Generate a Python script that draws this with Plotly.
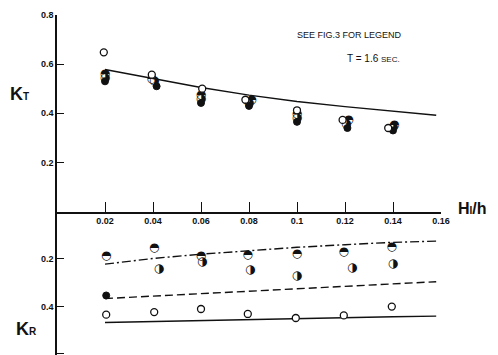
import plotly.graph_objects as go

# ---------------- data ----------------
x_ticks = [0.02, 0.04, 0.06, 0.08, 0.10, 0.12, 0.14, 0.16]
x_tick_labels = ["0.02", "0.04", "0.06", "0.08", "0.1", "0.12", "0.14", "0.16"]
kt_ticks = [0.2, 0.4, 0.6, 0.8]
kt_tick_labels = ["0.2", "0.4", "0.6", "0.8"]
kr_ticks = [0.2, 0.4, 0.6]
kr_tick_labels = ["0.2", "0.4", "0.6"]

# K_T (transmission) measurements, four model types (see Fig.3 legend)
kt_x_open = [0.0195, 0.0395, 0.0605, 0.0785, 0.1000, 0.1190, 0.1380]
kt_open = [0.648, 0.557, 0.500, 0.455, 0.412, 0.373, 0.340]
kt_x_top = [0.0200, 0.0395, 0.0600, 0.0810, 0.1000, 0.1215, 0.1405]
kt_top = [0.560, 0.540, 0.476, 0.455, 0.396, 0.373, 0.352]
kt_x_right = [0.0200, 0.0405, 0.0600, 0.0800, 0.1000, 0.1205, 0.1400]
kt_right = [0.545, 0.530, 0.460, 0.440, 0.380, 0.355, 0.343]
kt_x_fill = [0.0200, 0.0415, 0.0600, 0.0800, 0.1000, 0.1210, 0.1400]
kt_fill = [0.530, 0.510, 0.442, 0.430, 0.365, 0.340, 0.330]

# K_T fitted curve
kt_curve_x = [0.02, 0.04, 0.06, 0.08, 0.10, 0.12, 0.14, 0.158]
kt_curve = [0.578, 0.540, 0.505, 0.474, 0.448, 0.427, 0.408, 0.392]

# K_R (reflection) measurements
kr_x_open = [0.0205, 0.0405, 0.0600, 0.0795, 0.0995, 0.1195, 0.1395]
kr_open = [0.435, 0.424, 0.411, 0.432, 0.449, 0.438, 0.401]
kr_x_top = [0.0205, 0.0405, 0.0600, 0.0795, 0.1000, 0.1195, 0.1395]
kr_top = [0.187, 0.152, 0.187, 0.185, 0.180, 0.169, 0.150]
kr_x_right = [0.0425, 0.0605, 0.0805, 0.1000, 0.1230, 0.1400]
kr_right = [0.241, 0.214, 0.248, 0.270, 0.238, 0.223]
kr_x_fill = [0.0205]
kr_fill = [0.354]

# K_R fitted lines
kr_line_x = [0.02, 0.04, 0.06, 0.08, 0.10, 0.12, 0.14, 0.158]
kr_dashdot = [0.222, 0.198, 0.180, 0.164, 0.151, 0.140, 0.130, 0.125]
kr_dashed = [0.367, 0.357, 0.347, 0.335, 0.325, 0.314, 0.304, 0.296]
kr_solid = [0.468, 0.464, 0.459, 0.453, 0.451, 0.448, 0.444, 0.441]

# ---------------- figure ----------------
OFF = 8                       # page body margin in the browser
W, H = 498 - OFF, 355 - OFF   # figure size so it ends at the window edge
ML, MR, MT, MB = 57 - OFF, 57, 15 - OFF, 0
AXIS_Y = 211.5 - OFF          # pixel row of the H/h axis (figure coords)
split = (H - MB - AXIS_Y) / (H - MT - MB)

INK = "#111111"
fig = go.Figure()

line_style = dict(color=INK, width=1.4)

fig.add_trace(go.Scatter(x=kt_curve_x, y=kt_curve, mode="lines", line=line_style,
                         xaxis="x", yaxis="y", showlegend=False, hoverinfo="skip"))
fig.add_trace(go.Scatter(x=kr_line_x, y=kr_solid, mode="lines", line=line_style,
                         xaxis="x", yaxis="y2", showlegend=False, hoverinfo="skip"))
fig.add_trace(go.Scatter(x=kr_line_x, y=kr_dashed, mode="lines",
                         line=dict(color=INK, width=1.4, dash="8px,4px"),
                         xaxis="x", yaxis="y2", showlegend=False, hoverinfo="skip"))
fig.add_trace(go.Scatter(x=kr_line_x, y=kr_dashdot, mode="lines",
                         line=dict(color=INK, width=1.4, dash="9px,3px,2px,3px"),
                         xaxis="x", yaxis="y2", showlegend=False, hoverinfo="skip"))

def open_pts(x, y, ax):
    fig.add_trace(go.Scatter(x=x, y=y, mode="markers", yaxis=ax, xaxis="x",
                             marker=dict(symbol="circle", size=7, color="white",
                                         line=dict(color=INK, width=1.3)),
                             showlegend=False))

def fill_pts(x, y, ax):
    fig.add_trace(go.Scatter(x=x, y=y, mode="markers", yaxis=ax, xaxis="x",
                             marker=dict(symbol="circle", size=7, color=INK,
                                         line=dict(color=INK, width=1)),
                             showlegend=False))

def glyph_pts(x, y, ax, glyph):
    fig.add_trace(go.Scatter(x=x, y=y, mode="text", yaxis=ax, xaxis="x",
                             text=[glyph] * len(x), textposition="middle center",
                             textfont=dict(family="DejaVu Sans", size=12, color=INK),
                             showlegend=False))

fill_pts(kt_x_fill, kt_fill, "y")
glyph_pts(kt_x_right, kt_right, "y", "\u25D1")
glyph_pts(kt_x_top, kt_top, "y", "\u25D3")
open_pts(kt_x_open, kt_open, "y")

fill_pts(kr_x_fill, kr_fill, "y2")
glyph_pts(kr_x_right, kr_right, "y2", "\u25D1")
glyph_pts(kr_x_top, kr_top, "y2", "\u25D3")
open_pts(kr_x_open, kr_open, "y2")

tickfont = dict(family="Liberation Sans, Arial", size=9, color=INK, weight="bold")
axis_common = dict(showline=True, linecolor=INK, linewidth=1.5, ticks="inside",
                   tickcolor=INK, tickwidth=1.2, showgrid=False, zeroline=False,
                   tickfont=tickfont, fixedrange=True)

fig.update_layout(
    width=W, height=H,
    margin=dict(l=ML, r=MR, t=MT, b=MB, autoexpand=False),
    paper_bgcolor="white", plot_bgcolor="white",
    showlegend=False,
    xaxis=dict(domain=[0, 1], range=[0, 0.16], anchor="y",
               tickvals=x_ticks, ticktext=x_tick_labels, ticklen=10, **axis_common),
    yaxis=dict(domain=[split, 1], range=[0, 0.8], anchor="x",
               tickvals=kt_ticks, ticktext=kt_tick_labels, ticklen=7, **axis_common),
    yaxis2=dict(domain=[0, split], range=[0.605, 0], anchor="x",
                tickvals=kr_ticks, ticktext=kr_tick_labels, ticklen=7, **axis_common),
)

# helpers: window pixel -> paper fraction
def px_x(px):
    return (px - OFF - ML) / (W - ML - MR)

def px_y(py):
    return (H - MB - (py - OFF)) / (H - MT - MB)

big = dict(family="Liberation Sans, Arial", size=18, color=INK, weight="bold")
fig.add_annotation(x=px_x(19), y=px_y(94), xref="paper", yref="paper",
                   text="K<span style='font-size:10px'>T</span>", showarrow=False,
                   font=big, xanchor="center", yanchor="middle")
fig.add_annotation(x=px_x(26), y=px_y(329), xref="paper", yref="paper",
                   text="K<span style='font-size:10px'>R</span>", showarrow=False,
                   font=big, xanchor="center", yanchor="middle")
fig.add_annotation(x=px_x(456), y=px_y(208), xref="paper", yref="paper",
                   text="H<span style='font-size:10px'>I</span>/h", showarrow=False,
                   font=dict(family="Liberation Sans, Arial", size=16, color=INK, weight="bold"),
                   xanchor="left", yanchor="middle")

narrow = dict(family="Liberation Sans Narrow, Liberation Sans, Arial", size=9, color=INK)
fig.add_annotation(x=px_x(295), y=px_y(35), xref="paper", yref="paper",
                   text="SEE FIG.3 FOR LEGEND", showarrow=False, font=narrow,
                   xanchor="left", yanchor="middle")
fig.add_annotation(x=px_x(345), y=px_y(58), xref="paper", yref="paper",
                   text="T = 1.6 <span style='font-size:8px'>SEC.</span>", showarrow=False,
                   font=dict(family="Liberation Sans Narrow, Liberation Sans, Arial",
                             size=10, color=INK),
                   xanchor="left", yanchor="middle")

fig.write_html("out.html")
